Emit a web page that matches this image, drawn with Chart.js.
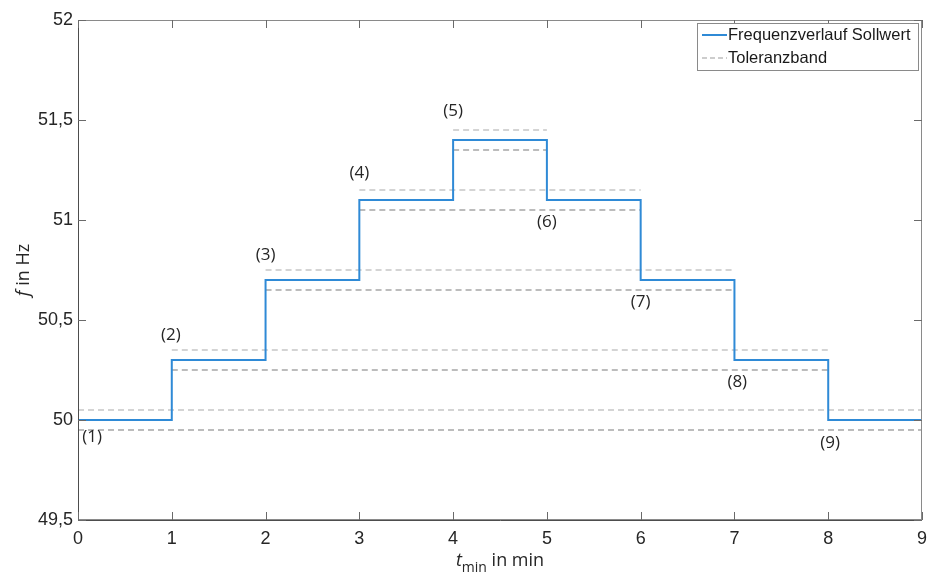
<!DOCTYPE html>
<html>
<head>
<meta charset="utf-8">
<script src="https://cdn.jsdelivr.net/npm/chart.js@4.4.1/dist/chart.umd.min.js"></script>
<style>
  html, body { margin: 0; padding: 0; background: #fff; }
  #wrap { width: 928px; height: 581px; }
</style>
</head>
<body>
<div id="wrap"><canvas id="StepChart" width="928" height="581"></canvas></div>
<script>
// step signal: time (min) and target frequency (Hz)
var stepTimes = [0, 1, 2, 3, 4, 5, 6, 7, 8, 9];
var stepFreq = [50, 50.3, 50.7, 51.1, 51.4, 51.1, 50.7, 50.3, 50, 50];

// tolerance band: level, from, to
var bandLevels = [50, 50.3, 50.7, 51.1, 51.4];
var bandFrom = [0, 1, 2, 3, 4];
var bandTo = [9, 8, 7, 6, 5];
var tolerance = 0.05;

// numbered points (1)..(9)
var markNames = ["(1)", "(2)", "(3)", "(4)", "(5)", "(6)", "(7)", "(8)", "(9)"];
var markT = [0.15, 0.99, 2.0, 3.0, 4.0, 5.0, 6.0, 7.03, 8.02];
var markF = [49.915, 50.425, 50.825, 51.235, 51.545, 50.99, 50.59, 50.19, 49.885];

var xTicks = [0, 1, 2, 3, 4, 5, 6, 7, 8, 9];
var yTicks = [49.5, 50, 50.5, 51, 51.5, 52];

function bandPoints(sign) {
  var pts = [];
  for (var i = 0; i < bandLevels.length; i++) {
    var y = bandLevels[i] + sign * tolerance;
    pts.push({x: bandFrom[i], y: y});
    pts.push({x: bandTo[i], y: y});
    pts.push({x: bandTo[i], y: null});
  }
  return pts;
}

var signal = stepTimes.map(function (t, i) { return {x: t, y: stepFreq[i]}; });

function deComma(v) { return String(v).replace('.', ','); }

var decor = {
  id: 'decor',
  afterDatasetsDraw: function (chart) {
    var ctx = chart.ctx, a = chart.chartArea;
    var xs = chart.scales.x, ys = chart.scales.y;
    ctx.save();
    // box
    ctx.strokeStyle = '#8a8a8a';
    ctx.lineWidth = 1;
    ctx.strokeRect(a.left + 0.5, a.top + 0.5, a.right - a.left - 1, a.bottom - a.top - 1);
    ctx.strokeStyle = '#4d4d4d';
    ctx.beginPath();
    ctx.moveTo(a.left + 0.5, a.top);
    ctx.lineTo(a.left + 0.5, a.bottom + 0.5);
    ctx.lineTo(a.right, a.bottom + 0.5);
    ctx.stroke();
    // inward ticks
    ctx.strokeStyle = '#6a6a6a';
    ctx.beginPath();
    xTicks.forEach(function (t) {
      var px = Math.round(xs.getPixelForValue(t)) + 0.5;
      ctx.moveTo(px, a.bottom); ctx.lineTo(px, a.bottom - 8);
      ctx.moveTo(px, a.top); ctx.lineTo(px, a.top + 8);
    });
    yTicks.forEach(function (v) {
      var py = Math.round(ys.getPixelForValue(v)) + 0.5;
      ctx.moveTo(a.left, py); ctx.lineTo(a.left + 8, py);
      ctx.moveTo(a.right, py); ctx.lineTo(a.right - 8, py);
    });
    ctx.stroke();

    // point labels
    ctx.fillStyle = '#262626';
    ctx.font = '17px "Open Sans"';
    ctx.textAlign = 'center';
    ctx.textBaseline = 'middle';
    markNames.forEach(function (n, i) {
      ctx.fillText(n, xs.getPixelForValue(markT[i]), ys.getPixelForValue(markF[i]));
    });

    // x title with subscript
    var cx = (a.left + a.right) / 2;
    ctx.textAlign = 'left';
    ctx.textBaseline = 'alphabetic';
    var p1 = 'italic 18px "Open Sans"', p2 = '14px "Open Sans"', p3 = '18px "Open Sans"';
    ctx.font = p1; var w1 = ctx.measureText('t').width;
    ctx.font = p2; var w2 = ctx.measureText('min').width;
    ctx.font = p3; var w3 = ctx.measureText(' in min').width;
    var x0 = cx - (w1 + w2 + w3) / 2, base = 566;
    ctx.font = p1; ctx.fillText('t', x0, base);
    ctx.font = p2; ctx.fillText('min', x0 + w1, base + 6);
    ctx.font = p3; ctx.fillText(' in min', x0 + w1 + w2, base);

    // y title
    ctx.translate(29, (a.top + a.bottom) / 2);
    ctx.rotate(-Math.PI / 2);
    ctx.font = 'italic 18px "Open Sans"'; var fw = ctx.measureText('f').width;
    ctx.font = '18px "Open Sans"'; var rw = ctx.measureText(' in Hz').width;
    var sx = -(fw + rw) / 2;
    ctx.font = 'italic 18px "Open Sans"'; ctx.fillText('f', sx, 0);
    ctx.font = '18px "Open Sans"'; ctx.fillText(' in Hz', sx + fw, 0);
    ctx.restore();

    // legend box
    ctx.save();
    var lx = 697, ly = 23, lw = 221, lh = 47;
    ctx.fillStyle = '#fff';
    ctx.fillRect(lx, ly, lw, lh);
    ctx.strokeStyle = '#8a8a8a';
    ctx.strokeRect(lx + 0.5, ly + 0.5, lw, lh);
    ctx.lineWidth = 2;
    ctx.strokeStyle = chart.data.datasets[0].borderColor;
    ctx.beginPath(); ctx.moveTo(702, 35); ctx.lineTo(727, 35); ctx.stroke();
    ctx.lineWidth = 1.5;
    ctx.setLineDash([5, 3]);
    ctx.strokeStyle = '#bdbdbd';
    ctx.beginPath(); ctx.moveTo(702, 58); ctx.lineTo(727, 58); ctx.stroke();
    ctx.setLineDash([]);
    ctx.fillStyle = '#1a1a1a';
    ctx.font = '16.5px "Liberation Sans"';
    ctx.textBaseline = 'middle';
    ctx.fillText(chart.data.datasets[0].label, 728, 35);
    ctx.fillText(chart.data.datasets[1].label, 728, 58);
    ctx.restore();
  }
};

var ctx = document.getElementById('StepChart').getContext('2d');
var stepChart = new Chart(ctx, {
  type: 'line',
  data: {
    datasets: [{
      label: 'Frequenzverlauf Sollwert',
      data: signal,
      stepped: true,
      borderColor: '#2f8ad6',
      borderWidth: 2,
      pointRadius: 0,
      fill: false,
      order: 0
    }, {
      label: 'Toleranzband',
      data: bandPoints(1),
      borderColor: '#c6c6c6',
      borderWidth: 1.5,
      borderDash: [6, 4],
      pointRadius: 0,
      spanGaps: false,
      fill: false,
      order: 1
    }, {
      label: 'Toleranzband unten',
      data: bandPoints(-1),
      borderColor: '#a6a6a6',
      borderWidth: 1.5,
      borderDash: [6, 4],
      pointRadius: 0,
      spanGaps: false,
      fill: false,
      order: 1
    }]
  },
  plugins: [decor],
  options: {
    responsive: false,
    animation: false,
    layout: { padding: { top: 20, right: 6, left: 0, bottom: 0 } },
    plugins: { legend: { display: false }, tooltip: { enabled: false } },
    scales: {
      x: {
        type: 'linear', min: 0, max: 9,
        afterBuildTicks: function (s) { s.ticks = xTicks.map(function (v) { return {value: v}; }); },
        afterFit: function (s) { s.height = 61; s.paddingLeft = 0; s.paddingRight = 0; },
        grid: { display: false, drawTicks: false },
        border: { display: false },
        ticks: { color: '#262626', font: { family: 'Liberation Sans', size: 18 }, padding: 8 }
      },
      y: {
        min: 49.5, max: 52,
        afterBuildTicks: function (s) { s.ticks = yTicks.map(function (v) { return {value: v}; }); },
        afterFit: function (s) { s.width = 78; s.paddingTop = 0; s.paddingBottom = 0; },
        grid: { display: false, drawTicks: false },
        border: { display: false },
        ticks: {
          color: '#262626', font: { family: 'Liberation Sans', size: 18 }, padding: 5,
          callback: function (v) { return deComma(v); }
        }
      }
    }
  }
});
</script>
</body>
</html>
